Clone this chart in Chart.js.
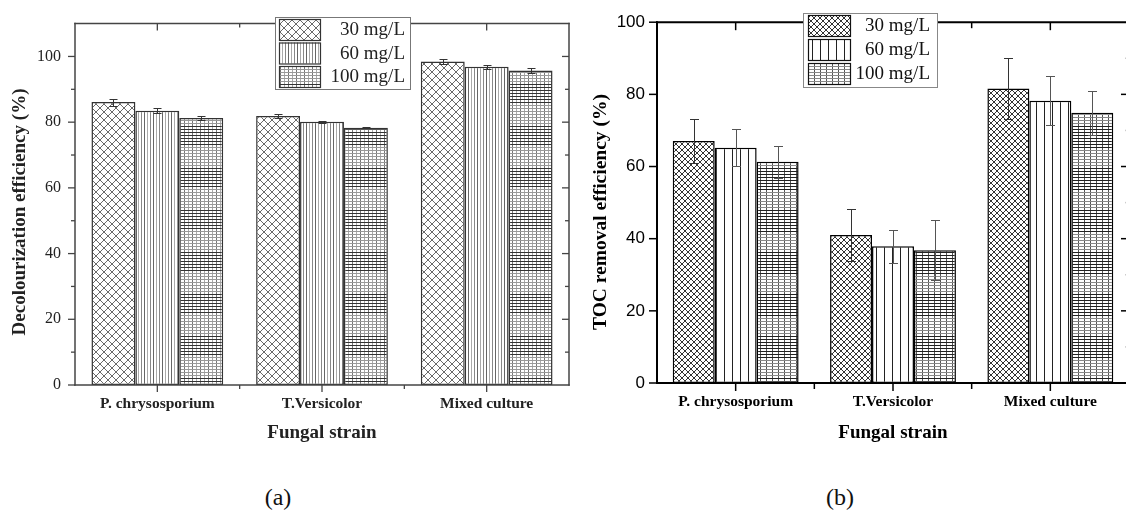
<!DOCTYPE html>
<html>
<head>
<meta charset="utf-8">
<script src="https://cdn.jsdelivr.net/npm/chart.js@4.4.1/dist/chart.umd.min.js"></script>
<style>
  html, body { margin: 0; padding: 0; background: #fff; }
  #wrap { position: relative; width: 1126px; height: 522px; overflow: hidden; }
  canvas { position: absolute; top: 0; }
  #chartA { left: 0; }
  #chartB { left: 580px; }
  .cap { position: absolute; font-family: "Liberation Serif", "Times New Roman", serif; font-size: 24px; color: #111; transform: translate(-50%, -50%); white-space: nowrap; }
</style>
</head>
<body>
<div id="wrap">
  <canvas id="chartA" width="570" height="450"></canvas>
  <canvas id="chartB" width="549" height="450"></canvas>
  <div class="cap" style="left:278px;top:497px">(a)</div>
  <div class="cap" style="left:840px;top:497px">(b)</div>
</div>
<script>
// ---- data ----
const strains = ['P. chrysosporium', 'T.Versicolor', 'Mixed culture'];
const doseLabels = ['30 mg/L', '60 mg/L', '100 mg/L'];

// Decolourization efficiency (%) and standard deviations
const decol30 = [86.1, 81.9, 98.5];
const decol60 = [83.5, 80.1, 96.9];
const decol100 = [81.3, 78.3, 95.7];
const decolErr30 = [1.1, 0.5, 0.8];
const decolErr60 = [0.8, 0.3, 0.6];
const decolErr100 = [0.6, 0.2, 0.8];
const decolTicks = [0, 20, 40, 60, 80, 100];

// TOC removal efficiency (%) and standard deviations
const toc30 = [67.1, 41.0, 81.6];
const toc60 = [65.2, 37.9, 78.2];
const toc100 = [61.3, 36.8, 74.9];
const tocErr30 = [6.2, 7.2, 8.5];
const tocErr60 = [5.1, 4.6, 6.8];
const tocErr100 = [4.4, 8.3, 6.1];
const tocTicks = [0, 20, 40, 60, 80, 100];

// ---- fill patterns ----
function tile(w, h, paint) {
  const c = document.createElement('canvas');
  c.width = w; c.height = h;
  const g = c.getContext('2d');
  g.fillStyle = '#fff';
  g.fillRect(0, 0, w, h);
  paint(g, w, h);
  return c;
}
function crossHatch(ctx, p, color) {
  return ctx.createPattern(tile(p, p, (g) => {
    g.strokeStyle = color;
    g.lineWidth = 1;
    g.beginPath();
    for (const dx of [-p, 0, p]) {
      g.moveTo(dx - 1, -1); g.lineTo(dx + p + 1, p + 1);
      g.moveTo(dx + p + 1, -1); g.lineTo(dx - 1, p + 1);
    }
    g.stroke();
  }), 'repeat');
}
function verticals(ctx, w, lines) {
  return ctx.createPattern(tile(w, 4, (g, W, H) => {
    lines.forEach(([x, col]) => { g.fillStyle = col; g.fillRect(x, 0, 1, H); });
  }), 'repeat');
}
function grid(ctx, w, h, vLines, step, darkRows, dark, light) {
  return ctx.createPattern(tile(w, h, (g, W, H) => {
    vLines.forEach(([x, col]) => { g.fillStyle = col; g.fillRect(x, 0, 1, H); });
    for (let i = 0, y = 0; y < H; i++, y += step) {
      g.fillStyle = i < darkRows ? dark : light;
      g.fillRect(0, y, W, 1);
    }
  }), 'repeat');
}

// ---- plugins ----
const frameTicks = {
  id: 'frameTicks',
  afterDatasetsDraw(chart, args, o) {
    const { ctx, chartArea: a, scales: { x, y } } = chart;
    ctx.save();
    ctx.strokeStyle = o.color;
    ctx.lineWidth = o.width;
    ctx.lineCap = 'square';
    const seg = (x1, y1, x2, y2) => { ctx.beginPath(); ctx.moveTo(x1, y1); ctx.lineTo(x2, y2); ctx.stroke(); };
    // frame
    seg(a.left, a.top, a.left, a.bottom);
    seg(a.left, a.bottom, a.right, a.bottom);
    seg(a.left, a.top, a.right, a.top);
    seg(a.right, a.top, a.right, a.bottom);
    ctx.lineWidth = o.tickWidth;
    ctx.lineCap = 'butt';
    // y ticks
    const majors = o.yTicks;
    majors.forEach((v) => {
      const py = y.getPixelForValue(v);
      seg(a.left - o.yMajor, py, a.left, py);
      if (o.rightTicks && v > 0 && v < y.max) seg(a.right, py, a.right - o.yMajor, py);
    });
    if (o.yMinor) {
      for (let i = 0; i < majors.length; i++) {
        const v = majors[i] + (majors[1] - majors[0]) / 2;
        if (v >= y.max) continue;
        const py = y.getPixelForValue(v);
        if (o.leftMinor) seg(a.left - o.yMinor, py, a.left, py);
        if (o.rightTicks) {
          ctx.strokeStyle = o.rightMinorColor || o.color;
          seg(a.right, py, a.right - o.yMinor, py);
          ctx.strokeStyle = o.color;
        }
      }
    }
    // x ticks at category centres and boundaries
    const n = chart.data.labels.length;
    for (let i = 0; i < n; i++) {
      const px = x.getPixelForValue(i);
      seg(px, a.bottom, px, a.bottom + o.xMajor);
      seg(px, a.top, px, a.top + o.xMajor);
      if (i < n - 1) {
        const bx = (px + x.getPixelForValue(i + 1)) / 2;
        seg(bx, a.bottom, bx, a.bottom + o.xMinor);
        seg(bx, a.top, bx, a.top + o.xMinor);
      }
    }
    ctx.restore();
  }
};

const errorBars = {
  id: 'errorBars',
  afterDatasetsDraw(chart, args, o) {
    const { ctx, scales: { y } } = chart;
    ctx.save();
    ctx.lineWidth = o.width;
    chart.data.datasets.forEach((ds, i) => {
      ctx.strokeStyle = o.colors[i];
      chart.getDatasetMeta(i).data.forEach((bar, j) => {
        const v = ds.data[j], e = ds.errors[j];
        const top = Math.round(y.getPixelForValue(v + e)) + 0.5;
        const bot = Math.round(y.getPixelForValue(v - e)) + 0.5;
        const cx = Math.round(bar.x) + 0.5, hw = o.cap / 2;
        ctx.beginPath();
        ctx.moveTo(cx, top); ctx.lineTo(cx, bot);
        ctx.moveTo(cx - hw, top); ctx.lineTo(cx + hw, top);
        ctx.moveTo(cx - hw, bot); ctx.lineTo(cx + hw, bot);
        ctx.stroke();
      });
    });
    ctx.restore();
  }
};

// rotated y-axis title, placed beside the value axis
const axisTitle = {
  id: 'axisTitle',
  afterDraw(chart, args, o) {
    const { ctx } = chart;
    ctx.save();
    ctx.translate(o.x, o.y);
    ctx.rotate(-Math.PI / 2);
    ctx.font = o.font;
    ctx.fillStyle = o.color;
    ctx.textAlign = 'center';
    ctx.textBaseline = 'middle';
    ctx.fillText(o.text, 0, 0);
    ctx.restore();
  }
};

const boxLegend = {
  id: 'boxLegend',
  afterDraw(chart, args, o) {
    const { ctx } = chart;
    ctx.save();
    ctx.fillStyle = '#fff';
    ctx.fillRect(o.x, o.y, o.w, o.h);
    ctx.strokeStyle = o.border;
    ctx.lineWidth = 1;
    ctx.strokeRect(o.x + 0.5, o.y + 0.5, o.w, o.h);
    chart.data.datasets.forEach((ds, i) => {
      const ry = o.y + o.pad + i * o.row;
      ctx.fillStyle = ds.backgroundColor;
      ctx.fillRect(o.sx, ry, o.sw, o.sh);
      ctx.strokeStyle = o.swatchBorder;
      ctx.lineWidth = 1.2;
      ctx.strokeRect(o.sx + 0.5, ry + 0.5, o.sw, o.sh);
      ctx.fillStyle = o.textColor;
      ctx.font = o.font;
      ctx.textAlign = 'right';
      ctx.textBaseline = 'middle';
      ctx.fillText(ds.label, o.tx, ry + o.sh / 2 + 1);
    });
    ctx.restore();
  }
};

// ---- chart builder ----
function buildChart(id, s) {
  const canvas = document.getElementById(id);
  const ctx = canvas.getContext('2d');
  const fills = s.fills(ctx);
  const series = [s.v30, s.v60, s.v100];
  const errs = [s.e30, s.e60, s.e100];
  return new Chart(ctx, {
    type: 'bar',
    data: {
      labels: strains,
      datasets: series.map((d, i) => ({
        label: doseLabels[i],
        data: d,
        errors: errs[i],
        backgroundColor: fills[i],
        borderColor: s.barBorder,
        borderWidth: 1.5,
        borderSkipped: false,
        barPercentage: 1.0,
        categoryPercentage: 0.8
      }))
    },
    options: {
      responsive: false,
      animation: false,
      events: [],
      layout: { padding: s.padding },
      plugins: {
        legend: { display: false },
        tooltip: { enabled: false },
        frameTicks: s.frame,
        errorBars: s.err,
        axisTitle: s.yTitle,
        boxLegend: s.legend
      },
      scales: {
        x: {
          grid: { display: false, drawTicks: false },
          border: { display: false },
          ticks: { color: s.textColor, font: { family: 'Liberation Serif', size: 15.5, weight: 'bold' }, padding: s.xLabelPad, maxRotation: 0 },
          title: { display: true, text: 'Fungal strain', color: s.textColor, font: { family: 'Liberation Serif', size: 19, weight: 'bold' }, padding: { top: 0, bottom: s.xTitlePad } },
          afterFit: (sc) => { sc.height = s.xHeight; }
        },
        y: {
          min: 0,
          max: s.yMax,
          grid: { display: false, drawTicks: false },
          border: { display: false },
          afterBuildTicks: (sc) => { sc.ticks = s.ticks.map((v) => ({ value: v })); },
          ticks: { color: s.textColor, font: s.tickFont, padding: s.yLabelPad },
          title: { display: false },
          afterFit: (sc) => { sc.width = s.yWidth; }
        }
      }
    },
    plugins: [frameTicks, errorBars, axisTitle, boxLegend]
  });
}

buildChart('chartA', {
  v30: decol30, v60: decol60, v100: decol100,
  e30: decolErr30, e60: decolErr60, e100: decolErr100,
  ticks: decolTicks, yMax: 110,
  textColor: '#222',
  barBorder: '#333',
  tickFont: { family: 'Liberation Serif', size: 16 },
  padding: { top: 16, left: 0, right: 1, bottom: 5 },
  yWidth: 75, yLabelPad: 14,
  xHeight: 60, xLabelPad: 10, xTitlePad: 1,
  fills: (ctx) => [
    crossHatch(ctx, 8, '#6a6a6a'),
    verticals(ctx, 9, [[0, '#666'], [3, '#aaa'], [6, '#888']]),
    grid(ctx, 8, 42, [[0, '#777'], [4, '#aaa']], 3, 7, '#333', '#999')
  ],
  yTitle: { text: 'Decolourization efficiency (%)', x: 20, y: 212, font: 'bold 19px "Liberation Serif"', color: '#222' },
  frame: { color: '#444', width: 1.5, tickWidth: 1.3, yTicks: decolTicks, yMajor: 7, yMinor: 4, leftMinor: true, rightTicks: true, xMajor: 7, xMinor: 4 },
  err: { colors: ['#333', '#333', '#333'], width: 1, cap: 8 },
  legend: { x: 275, y: 17, w: 135, h: 72, pad: 2, row: 23.5, sx: 279, sw: 41, sh: 21, tx: 405, font: '19px "Liberation Serif"', textColor: '#222', border: '#777', swatchBorder: '#333' }
});

buildChart('chartB', {
  v30: toc30, v60: toc60, v100: toc100,
  e30: tocErr30, e60: tocErr60, e100: tocErr100,
  ticks: tocTicks, yMax: 100,
  textColor: '#000',
  barBorder: '#000',
  tickFont: { family: 'Liberation Sans', size: 17 },
  padding: { top: 12, left: 0, right: 0, bottom: 5 },
  yWidth: 77, yLabelPad: 12,
  xHeight: 62, xLabelPad: 10, xTitlePad: 1,
  fills: (ctx) => [
    crossHatch(ctx, 6, '#333'),
    verticals(ctx, 8, [[0, '#222']]),
    grid(ctx, 6, 42, [[0, '#555']], 3, 8, '#222', '#888')
  ],
  yTitle: { text: 'TOC removal efficiency (%)', x: 21, y: 212, font: 'bold 19.5px "Liberation Serif"', color: '#000' },
  frame: { color: '#000', width: 2, tickWidth: 1.5, yTicks: tocTicks, yMajor: 8, yMinor: 4, leftMinor: false, rightTicks: true, rightMinorColor: '#ccc', xMajor: 8, xMinor: 6 },
  err: { colors: ['#333', '#555', '#555'], width: 1, cap: 9 },
  legend: { x: 223, y: 13, w: 134, h: 74, pad: 2, row: 24, sx: 228, sw: 42, sh: 21, tx: 350, font: '19px "Liberation Serif"', textColor: '#111', border: '#888', swatchBorder: '#111' }
});
</script>
</body>
</html>
